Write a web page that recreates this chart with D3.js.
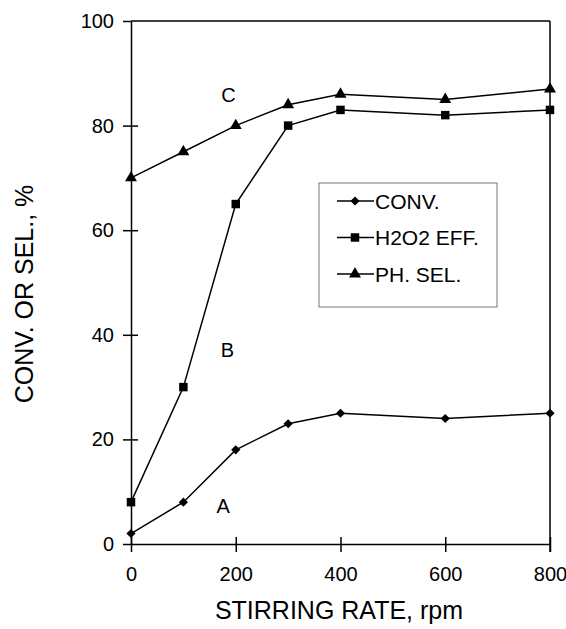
<!DOCTYPE html>
<html>
<head>
<meta charset="utf-8">
<script src="https://cdn.jsdelivr.net/npm/d3@7"></script>
<style>
  body { margin: 0; background: #fff; }
  svg text { font-family: "Liberation Sans", Arial, sans-serif; fill: #000; }
</style>
</head>
<body>
<script>
// stirring rate, rpm
var rates = [0, 100, 200, 300, 400, 600, 800];
var conv = [2, 8, 18, 23, 25, 24, 25];          // A
var h2o2Eff = [8, 30, 65, 80, 83, 82, 83];     // B
var phSel = [70, 75, 80, 84, 86, 85, 87];      // C
var xTicks = [0, 200, 400, 600, 800];
var yTicks = [0, 20, 40, 60, 80, 100];
var seriesNames = ["CONV.", "H2O2 EFF.", "PH. SEL."];
var curveLabels = ["A", "B", "C"];

var width = 566,
    height = 629,
    plotLeft = 131, plotRight = 550,
    plotTop = 21, plotBottom = 544;

var svg = d3.select("body").append("svg")
            .attr("width", width)
            .attr("height", height);

var x = d3.scaleLinear().domain([0, 800]).range([plotLeft, plotRight]);
var y = d3.scaleLinear().domain([0, 100]).range([plotBottom, plotTop]);

// frame: top and right borders
svg.append("line")
   .attr("x1", plotLeft).attr("x2", plotRight)
   .attr("y1", plotTop).attr("y2", plotTop)
   .attr("stroke", "#000").attr("stroke-width", 1.5);
svg.append("line")
   .attr("x1", plotRight).attr("x2", plotRight)
   .attr("y1", plotTop).attr("y2", plotBottom + 8)
   .attr("stroke", "#000").attr("stroke-width", 1.5);

// x axis, ticks crossing the line
var xAxis = svg.append("g")
   .attr("transform", "translate(0," + plotBottom + ")")
   .call(d3.axisBottom(x).tickValues(xTicks).tickSize(0).tickPadding(22));
xAxis.select(".domain").attr("stroke-width", 1.5);
xAxis.selectAll(".tick").append("line")
     .attr("y1", -7).attr("y2", 8)
     .attr("stroke", "#000").attr("stroke-width", 1.5);
xAxis.selectAll("text").style("font-size", "20px").attr("dy", "0.75em");

// y axis
var yAxis = svg.append("g")
   .attr("transform", "translate(" + plotLeft + ",0)")
   .call(d3.axisLeft(y).tickValues(yTicks).tickSize(0).tickPadding(17));
yAxis.select(".domain").attr("stroke-width", 1.5);
yAxis.selectAll(".tick").append("line")
     .attr("x1", -8).attr("x2", function(d) { return d === 100 || d === 0 ? 0 : 7; })
     .attr("stroke", "#000").attr("stroke-width", 1.5);
yAxis.selectAll("text").style("font-size", "20px");

// axis titles
svg.append("text")
   .attr("x", 339).attr("y", 619)
   .attr("text-anchor", "middle")
   .style("font-size", "25px")
   .text("STIRRING RATE, rpm");
svg.append("text")
   .attr("transform", "translate(33,294) rotate(-90)")
   .attr("text-anchor", "middle")
   .style("font-size", "25px")
   .text("CONV. OR SEL., %");

var allSeries = [conv, h2o2Eff, phSel];

var line = d3.line()
             .x(function(d, i) { return x(rates[i]); })
             .y(function(d) { return y(d); });

// diamond = square turned 45 degrees
var symbols = [d3.symbolSquare, d3.symbolSquare, d3.symbolTriangle];
var symSizes = [42, 72, 62];
var symRotate = [45, 0, 0];

allSeries.forEach(function(vals, s) {
    svg.append("path")
       .datum(vals)
       .attr("d", line)
       .attr("fill", "none")
       .attr("stroke", "#000")
       .attr("stroke-width", 1.5);

    svg.selectAll(".pt" + s)
       .data(vals)
       .enter()
       .append("path")
       .attr("class", "pt" + s)
       .attr("transform", function(d, i) {
           return "translate(" + x(rates[i]) + "," + y(d) + ") rotate(" + symRotate[s] + ")";
       })
       .attr("d", d3.symbol().type(symbols[s]).size(symSizes[s]))
       .attr("fill", "#000");
});

// curve letters (positioned in data units)
var letterPos = [[176, 6], [184, 35.8], [186, 84.5]];
curveLabels.forEach(function(t, i) {
    svg.append("text")
       .attr("x", x(letterPos[i][0]))
       .attr("y", y(letterPos[i][1]))
       .attr("text-anchor", "middle")
       .style("font-size", "20px")
       .text(t);
});

// legend
var legend = svg.append("g").attr("transform", "translate(319,183)");
legend.append("rect")
      .attr("width", 178).attr("height", 124)
      .attr("fill", "#fff")
      .attr("stroke", "#777").attr("stroke-width", 1);

var rows = legend.selectAll(".legendRow")
                 .data(seriesNames)
                 .enter()
                 .append("g")
                 .attr("class", "legendRow")
                 .attr("transform", function(d, i) { return "translate(0," + (18 + i * 36.5) + ")"; });

rows.append("line")
    .attr("x1", 18).attr("x2", 55)
    .attr("stroke", "#000").attr("stroke-width", 1.5);
rows.append("path")
    .attr("transform", function(d, i) { return "translate(36,0) rotate(" + symRotate[i] + ")"; })
    .attr("d", function(d, i) { return d3.symbol().type(symbols[i]).size(symSizes[i])(); })
    .attr("fill", "#000");
rows.append("text")
    .attr("x", 56).attr("dy", "0.36em")
    .style("font-size", "21px")
    .text(function(d) { return d; });
</script>
</body>
</html>
